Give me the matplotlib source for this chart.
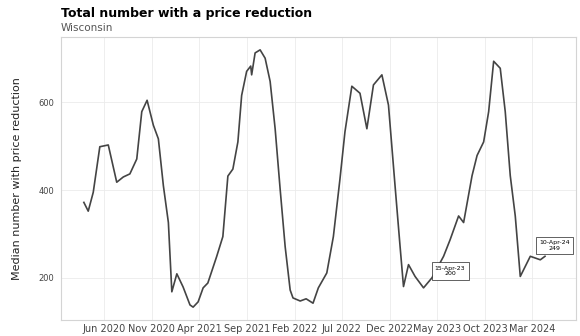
import matplotlib
matplotlib.use("Agg")
import matplotlib.pyplot as plt
import pandas as pd

dates = ["2020-03-29", "2020-04-12", "2020-04-28", "2020-05-19", "2020-06-15", "2020-07-12",
         "2020-08-02", "2020-08-23", "2020-09-14", "2020-09-30", "2020-10-17", "2020-11-06",
         "2020-11-22", "2020-12-08", "2020-12-24", "2021-01-04", "2021-01-20", "2021-02-09",
         "2021-03-03", "2021-03-13", "2021-03-29", "2021-04-14", "2021-04-29", "2021-05-27",
         "2021-06-16", "2021-07-02", "2021-07-18", "2021-08-03", "2021-08-15", "2021-08-31",
         "2021-09-13", "2021-09-16", "2021-09-27", "2021-10-13", "2021-10-29", "2021-11-14",
         "2021-11-30", "2021-12-16", "2022-01-01", "2022-01-17", "2022-01-26", "2022-02-18",
         "2022-03-09", "2022-03-31", "2022-04-17", "2022-05-14", "2022-06-04", "2022-06-25",
         "2022-07-11", "2022-08-02", "2022-08-28", "2022-09-19", "2022-10-10", "2022-11-06",
         "2022-11-27", "2022-12-18", "2023-01-03", "2023-01-14", "2023-01-30", "2023-02-20",
         "2023-03-19", "2023-04-15", "2023-05-22", "2023-06-12", "2023-07-09", "2023-07-25",
         "2023-08-21", "2023-09-06", "2023-09-27", "2023-10-13", "2023-10-29", "2023-11-19",
         "2023-12-05", "2023-12-21", "2024-01-06", "2024-01-22", "2024-02-23", "2024-03-26",
         "2024-04-10"]
values = [372, 352, 395, 499, 503, 418,
          430, 437, 471, 579, 605, 548,
          517, 410, 326, 168, 209, 179,
          138, 133, 145, 177, 188, 248,
          294, 432, 448, 510, 616, 671,
          683, 663, 713, 720, 701, 648,
          540, 402, 271, 172, 154, 147,
          152, 142, 177, 211, 294, 425,
          533, 637, 621, 540, 640, 663,
          594, 410, 272, 180, 230, 203,
          177, 200, 249, 287, 341, 326,
          433, 479, 510, 579, 694, 678,
          579, 433, 341, 203, 249, 241,
          249]

tick_dates = ["2020-06-01", "2020-11-01", "2021-04-01", "2021-09-01", "2022-02-01",
              "2022-07-01", "2022-12-01", "2023-05-01", "2023-10-01", "2024-03-01"]
tick_labels = ["Jun 2020", "Nov 2020", "Apr 2021", "Sep 2021", "Feb 2022",
               "Jul 2022", "Dec 2022", "May 2023", "Oct 2023", "Mar 2024"]
y_ticks = [200, 400, 600]

annot_idx = [61, 78]

title = "Total number with a price reduction"
subtitle = "Wisconsin"
ylabel = "Median number with price reduction"

x = pd.to_datetime(dates)

fig = plt.figure(figsize=(5.8, 3.36), dpi=100)
ax = fig.add_axes([61/580, 1 - 320/336, (576 - 61)/580, (320 - 37)/336])

ax.plot(x, values, color="#444444", lw=1.2)

ax.set_xlim(pd.Timestamp("2020-01-16"), pd.Timestamp("2024-07-18"))
ax.set_xticks(pd.to_datetime(tick_dates))
ax.set_xticklabels(tick_labels)
ax.set_yticks(y_ticks)
ax.set_yticklabels([str(v) for v in y_ticks])
ax.tick_params(axis="both", length=0, labelsize=7, colors="#444444", pad=3)
ax.tick_params(axis="y", labelsize=6, pad=5)
ax.grid(True, color="#ebebeb", lw=0.6)
ax.set_axisbelow(True)
for s in ax.spines.values():
    s.set_color("#d4d4d4")
    s.set_linewidth(0.8)

ax.set_ylabel(ylabel, fontsize=8, color="#222222", labelpad=12)

offsets = [(2, 1), (7, 4)]
has = ["left", "center"]
for i, off, ha in zip(annot_idx, offsets, has):
    d = x[i]
    ax.annotate(f"{d.strftime('%d-%b-%y')}\n{values[i]}", xy=(d, values[i]),
                xytext=off, textcoords="offset points", ha=ha, va="bottom",
                fontsize=4.5, multialignment="center",
                bbox=dict(boxstyle="square,pad=0.5", fc="white", ec="#222222", lw=0.5))

fig.text(61/580, 1 - 14/336, title, fontsize=9, fontweight="bold", va="center", ha="left")
fig.text(61/580, 1 - 28/336, subtitle, fontsize=7.5, color="#555555", va="center", ha="left")

fig.savefig("out.png", dpi=100)
